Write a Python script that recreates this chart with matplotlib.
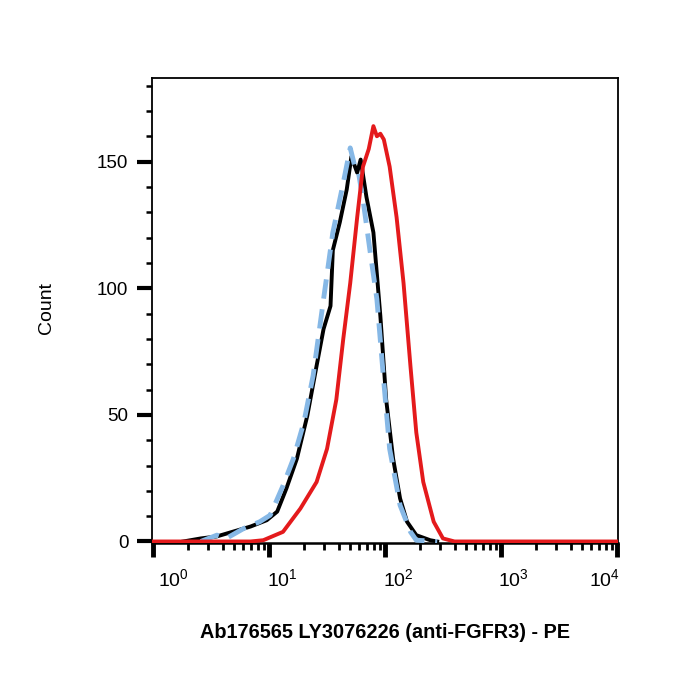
import numpy as np
import matplotlib
matplotlib.use("Agg")
import matplotlib.pyplot as plt
from matplotlib.ticker import FixedLocator, NullFormatter
import matplotlib.transforms as mtransforms

plt.rcParams['font.family'] = ['Liberation Sans', 'DejaVu Sans']
plt.rcParams['mathtext.fontset'] = 'custom'
plt.rcParams['mathtext.rm'] = 'Liberation Sans'
plt.rcParams['mathtext.it'] = 'Liberation Sans'

# log10(fluorescence) and counts
red_logx = [0.0, 0.84, 0.95, 1.12, 1.27, 1.41, 1.50, 1.58, 1.64, 1.70, 1.76, 1.81, 1.86,
            1.90, 1.93, 1.96, 1.99, 2.04, 2.10, 2.16, 2.22, 2.27, 2.33, 2.42, 2.50, 2.60, 4.01]
red_y = [0, 0, 0.5, 3.8, 13, 23.5, 36.6, 56, 80, 102, 128, 148, 155,
         164, 160, 161, 158.7, 148, 128, 102, 69, 43, 23.5, 7.8, 1.2, 0, 0]

black_logx = [0.26, 0.41, 0.55, 0.69, 0.84, 0.98, 1.07, 1.15, 1.24, 1.33, 1.41, 1.47, 1.53,
              1.55, 1.61, 1.67, 1.71, 1.76, 1.79, 1.84, 1.90, 1.96, 2.01, 2.07, 2.13, 2.19,
              2.27, 2.39, 2.45]
black_y = [0, 1.2, 2, 3.9, 5.9, 8.4, 11.8, 21, 32.7, 49.7, 69.4, 83.9, 93,
           115, 126, 139, 152, 145.6, 150.8, 136, 122, 89, 56, 32.7, 17, 7.8,
           2.5, 0.5, 0]

blue_logx = [0.41, 0.55, 0.63, 0.78, 0.92, 1.01, 1.12, 1.21, 1.30, 1.38, 1.47, 1.55, 1.64,
             1.70, 1.74, 1.77, 1.81, 1.87, 1.93, 1.99, 2.04, 2.13, 2.22, 2.27, 2.45]
blue_y = [0, 2.5, 1.2, 5.1, 7.8, 10.4, 22, 32.7, 47, 65.5, 95.7, 122, 141.6,
          155.4, 148, 146, 135, 115, 95.7, 62.9, 36.6, 14.3, 3.8, 0.5, 0]

y_ticks = [0, 50, 100, 150]
x_decades = [0, 1, 2, 3, 4]
xlabel = "Ab176565 LY3076226 (anti-FGFR3) - PE"
ylabel = "Count"

fig = plt.figure(figsize=(7, 7), dpi=100)
ax = fig.add_axes([152/700, 1-543/700, (618-152)/700, (543-78)/700])

ax.plot(10**np.array(black_logx), black_y, color='black', lw=2.8, zorder=3)
ax.plot(10**np.array(blue_logx), blue_y, color='#86b8e6', lw=3.5, ls=(0, (4, 2.2)), zorder=4)
ax.plot(10**np.array(red_logx), red_y, color='#e41a1c', lw=2.8, zorder=5)

ax.set_xscale('log')
ax.set_xlim(10**(-0.01), 10**4.01)
ax.set_ylim(-0.6, 183)

for s in ax.spines.values():
    s.set_linewidth(1.3)
ax.spines['bottom'].set_linewidth(1.8)

ax.yaxis.set_major_locator(FixedLocator(y_ticks))
ax.yaxis.set_minor_locator(FixedLocator([v for v in range(10, 181, 10) if v not in y_ticks]))
ax.tick_params(axis='y', which='major', length=11, width=3, labelsize=13.5, pad=6, direction='out')
ax.tick_params(axis='y', which='minor', length=4, width=1.8, direction='out')

maj = [10.0**d for d in x_decades]
mins = [m * 10.0**d for d in range(0, 4) for m in range(2, 10)]
ax.xaxis.set_major_locator(FixedLocator(maj))
ax.xaxis.set_minor_locator(FixedLocator(mins))
ax.xaxis.set_major_formatter(NullFormatter())
ax.xaxis.set_minor_formatter(NullFormatter())
ax.tick_params(axis='x', which='major', length=10, width=3.5, direction='out')
ax.tick_params(axis='x', which='minor', length=5, width=2, direction='out')

offsets = [20, 13, 13, 13, -12]
for d, off in zip(x_decades, offsets):
    tr = mtransforms.offset_copy(ax.get_xaxis_transform(), fig=fig, x=off, y=-25, units='dots')
    ax.text(10.0**d, 0, r'$10^{%d}$' % d, transform=tr, ha='center', va='top', fontsize=14)

fig.text(385/700, 1-632/700, xlabel, ha='center', va='center', fontsize=14.3, fontweight='bold')
fig.text(46/700, 1-308/700, ylabel, ha='center', va='center', fontsize=14, rotation=90)

fig.savefig('out.png', dpi=100)
